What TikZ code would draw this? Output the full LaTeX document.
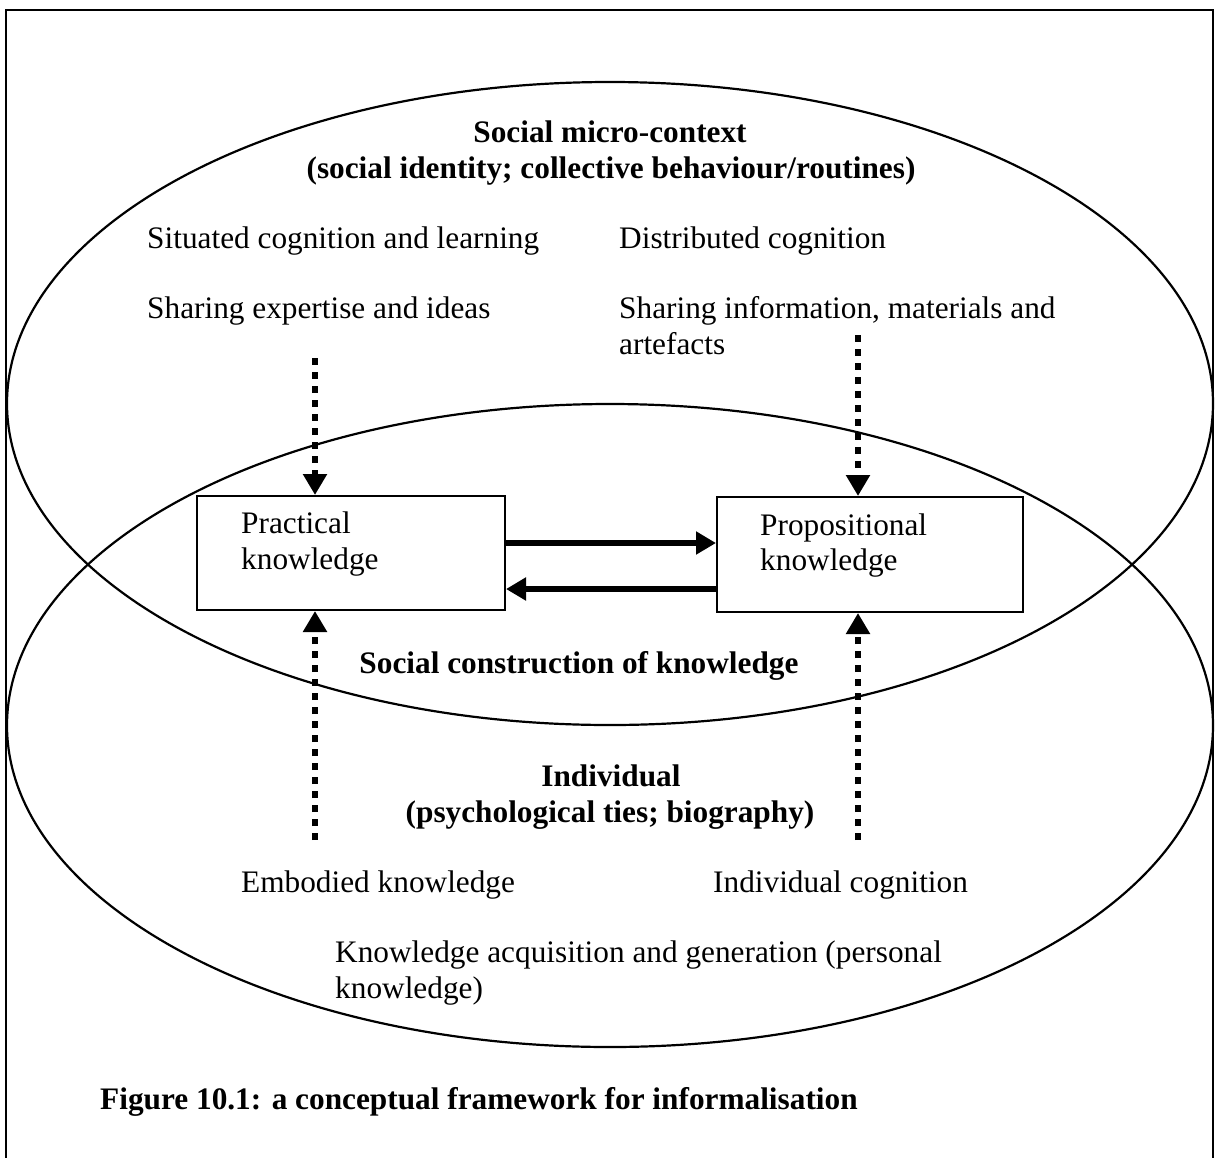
\documentclass[tikz,border=0pt]{standalone}
\usepackage{fontspec}
\setmainfont{Liberation Serif}
\usetikzlibrary{arrows.meta,shapes.geometric}
\begin{document}
\begin{tikzpicture}[x=1pt,y=-1pt,
  txt/.style={inner sep=0pt, anchor=base west, font=\fontsize{31.3}{36}\selectfont},
  ttl/.style={inner sep=0pt, anchor=base, font=\fontsize{31.3}{36}\selectfont\bfseries},
  oval/.style={draw, ellipse, line width=2.2pt, inner sep=0pt,
               minimum width=1206pt, minimum height=643pt},
  kbox/.style={draw, line width=2pt, inner sep=0pt},
  dotarrow/.style={line width=6.5pt, dash pattern=on 7pt off 7pt,
                   -{Triangle[length=21pt,width=23pt]}},
  bigarrow/.style={line width=5.5pt, -{Triangle[length=20pt,width=22pt]}}]

% page area and outer frame
\useasboundingbox (0,0) rectangle (1218,1157);
\clip (0,0) rectangle (1218,1157);
\draw[line width=2.2pt] (6,1200) -- (6,10) -- (1213,10) -- (1213,1200);

% the two overlapping spheres
\node[oval] (social) at (610,403.5) {};
\node[oval] (indiv)  at (610,725.5) {};

% knowledge boxes
\node[kbox, minimum width=308pt, minimum height=114pt] (pk) at (351,553) {};
\node[kbox, minimum width=306pt, minimum height=115pt] (pp) at (870,554.5) {};
\node[txt] (pk1) at (241,533) {Practical};
\node[txt] (pk2) at (241,569) {knowledge};
\node[txt] (pp1) at (760,535) {Propositional};
\node[txt] (pp2) at (760,570) {knowledge};

% exchange between practical and propositional knowledge
\coordinate (r1) at (0,543);
\coordinate (r2) at (0,589);
\draw[bigarrow] (pk.east |- r1) -- (pp.west |- r1);
\draw[bigarrow] (pp.west |- r2) -- (pk.east |- r2);

% social sphere texts
\node[ttl] (t1) at (610,142) {Social micro-context};
\node[ttl] (t2) at (611,178) {(social identity; collective behaviour/routines)};
\node[txt] (s1) at (147,248) {Situated cognition and learning};
\node[txt] (s2) at (619,248) {Distributed cognition};
\node[txt] (s3) at (147,318) {Sharing expertise and ideas};
\node[txt] (s4) at (619,318) {Sharing information, materials and};
\node[txt] (s5) at (619,354) {artefacts};

% overlap and individual sphere texts
\node[ttl] (c1) at (579,673) {Social construction of knowledge};
\node[ttl] (i1) at (611,786) {Individual};
\node[ttl] (i2) at (610,822) {(psychological ties; biography)};
\node[txt] (e1) at (241,892) {Embodied knowledge};
\node[txt] (e2) at (713,892) {Individual cognition};
\node[txt] (k1) at (335,962) {Knowledge acquisition and generation (personal};
\node[txt] (k2) at (335,998) {knowledge)};

% dotted influences
\coordinate (d1) at (315,358);
\coordinate (d2) at (858,335);
\coordinate (d3) at (315,840);
\coordinate (d4) at (858,840);
\draw[dotarrow] (d1) -- (d1 |- pk.north);
\draw[dotarrow] (d2) -- (d2 |- pp.north);
\draw[dotarrow] (d3) -- (d3 |- pk.south);
\draw[dotarrow] (d4) -- (d4 |- pp.south);

% caption
\node[txt, font=\fontsize{31.3}{36}\selectfont\bfseries] (cap) at (100,1109)
  {Figure 10.1: a conceptual framework for informalisation};
\end{tikzpicture}
\end{document}
